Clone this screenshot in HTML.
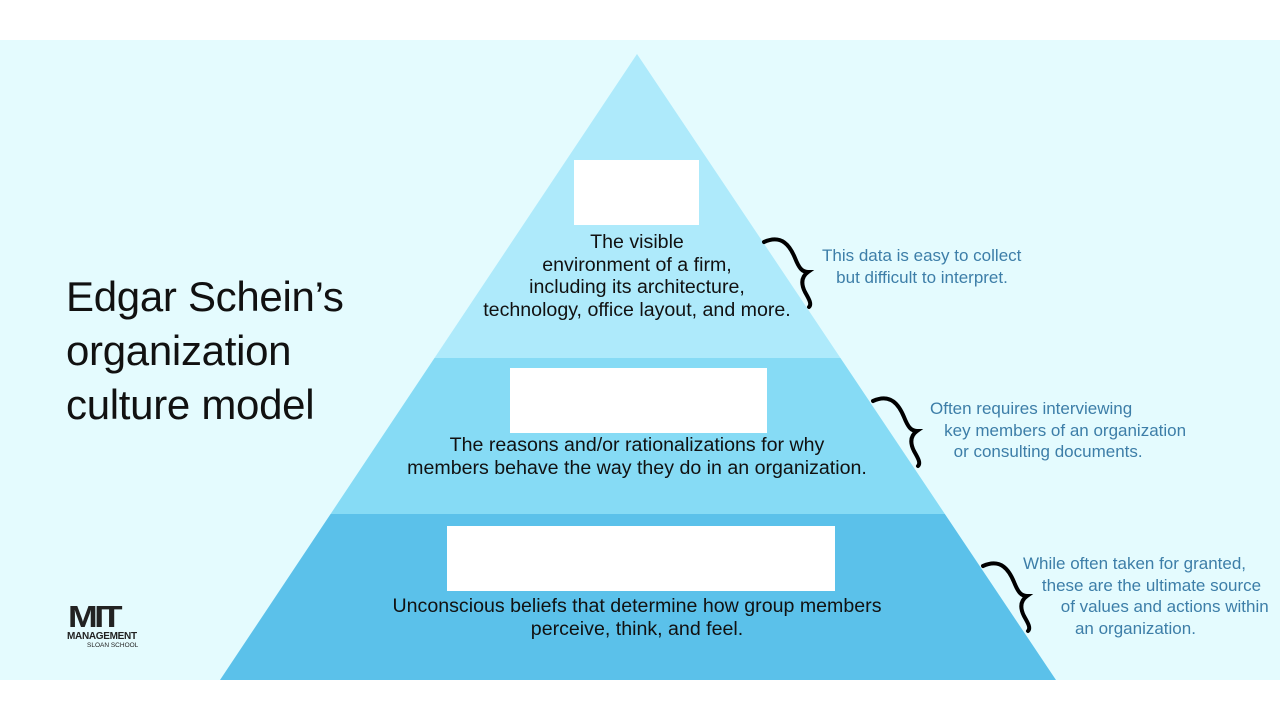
<!DOCTYPE html>
<html><head><style>
body{margin:0;width:1280px;height:720px;background:#fff;position:relative;overflow:hidden;font-family:"Liberation Sans",sans-serif}
.bg{position:absolute;left:0;top:40px;width:1280px;height:640px;background:#e4fbfe}
.t{position:absolute;text-align:center;color:#111;font-size:19.6px;line-height:22.5px;white-space:nowrap}
.n{position:absolute;color:#3d7ea8;font-size:17px;line-height:21.5px;white-space:pre}
.w{position:absolute;background:#fff}
</style></head><body>
<div class="bg"></div>
<svg width="1280" height="720" style="position:absolute;left:0;top:0">
<defs><clipPath id="c"><polygon points="637,54 1056,680 220,680"/></clipPath></defs>
<g clip-path="url(#c)">
<rect x="0" y="0" width="1280" height="358" fill="#aeeafb"/>
<rect x="0" y="358" width="1280" height="156" fill="#86dbf5"/>
<rect x="0" y="514" width="1280" height="170" fill="#5bc1ea"/>
</g>
<g fill="none" stroke="#000" stroke-width="4" stroke-linecap="round">
<path id="b" d="M764,242 C782,234 790,246 795,258 C799,268 802,272 808,272 C801,277 801,284 805,292 C809,299 812,304 809,307"/>
<use href="#b" transform="translate(109,159)"/>
<use href="#b" transform="translate(219,324)"/>
</g>
</svg>
<div class="w" style="left:574px;top:160px;width:125px;height:65px"></div>
<div class="w" style="left:510px;top:368px;width:257px;height:65px"></div>
<div class="w" style="left:447px;top:526px;width:388px;height:65px"></div>
<div class="t" style="left:437px;width:400px;top:231px">The visible<br>environment of a firm,<br>including its architecture,<br>technology, office layout, and more.</div>
<div class="t" style="left:337px;width:600px;top:434px">The reasons and/or rationalizations for why<br>members behave the way they do in an organization.</div>
<div class="t" style="left:337px;width:600px;top:595px">Unconscious beliefs that determine how group members<br>perceive, think, and feel.</div>
<div class="n" style="left:822px;top:245px">This data is easy to collect
   but difficult to interpret.</div>
<div class="n" style="left:930px;top:398px">Often requires interviewing
   key members of an organization
     or consulting documents.</div>
<div class="n" style="left:1023px;top:553px">While often taken for granted,
    these are the ultimate source
        of values and actions within
           an organization.</div>
<div style="position:absolute;left:66px;top:270px;font-size:42px;line-height:54px;color:#111;letter-spacing:-0.3px">Edgar Schein’s<br>organization<br>culture model</div>
<div style="position:absolute;left:68px;top:603px;font-weight:900;font-size:31px;line-height:28px;color:#222;letter-spacing:-3px;transform:scaleX(1.15);transform-origin:left">MIT</div>
<div style="position:absolute;left:67px;top:631px;font-weight:bold;font-size:10px;color:#222;letter-spacing:-0.3px">MANAGEMENT</div>
<div style="position:absolute;left:87px;top:642px;font-size:6.5px;color:#222">SLOAN SCHOOL</div>
</body></html>
